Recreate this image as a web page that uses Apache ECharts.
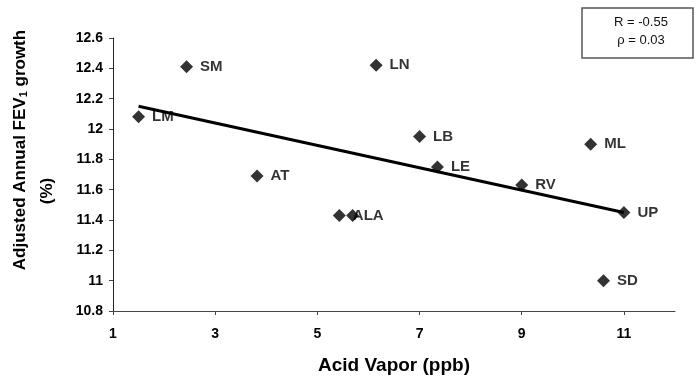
<!DOCTYPE html>
<html>
<head>
<meta charset="utf-8">
<script src="https://cdn.jsdelivr.net/npm/echarts@6/dist/echarts.min.js"></script>
<style>
html,body{margin:0;padding:0;background:#fff;}
#chart{width:699px;height:377px;}
</style>
</head>
<body>
<div id="chart"></div>
<script>
// ---- data ----
const siteNames = ['LM', 'SM', 'AT', 'ALA', '', 'LN', 'LB', 'LE', 'RV', 'ML', 'SD', 'UP'];
const acidVapor = [1.5, 2.44, 3.82, 5.43, 5.69, 6.15, 7.0, 7.35, 9.0, 10.35, 10.6, 11.0];
const fevGrowth = [12.08, 12.41, 11.69, 11.43, 11.43, 12.42, 11.95, 11.75, 11.63, 11.90, 11.0, 11.45];
const trendX = [1.5, 11.0];
const trendY = [12.15, 11.45];
const xTicks = [1, 3, 5, 7, 9, 11];
const statsLines = ['R = -0.55', 'ρ = 0.03'];
const xTitle = 'Acid Vapor (ppb)';
const yTitleMain = 'Adjusted Annual FEV';
const yTitleSub = '1';
const yTitleEnd = ' growth';
const yTitleUnit = '(%)';

const FONT = "'Liberation Sans', Arial, sans-serif";
const chart = echarts.init(document.getElementById('chart'), null, {renderer: 'canvas'});

const scatterData = acidVapor.map((x, i) => ({value: [x, fevGrowth[i]], name: siteNames[i]}));
const trendData = trendX.map((x, i) => [x, trendY[i]]);

chart.setOption({
  animation: false,
  backgroundColor: '#fff',
  grid: {left: 113, right: 24, top: 38, bottom: 66, outerBoundsMode: 'none', containLabel: false},
  xAxis: {
    type: 'value', min: 1, max: 12,
    name: xTitle, nameLocation: 'middle', nameGap: 45,
    nameTextStyle: {fontFamily: FONT, fontWeight: 'bold', fontSize: 19, color: '#000'},
    splitLine: {show: false},
    axisLine: {lineStyle: {color: '#444', width: 1}},
    axisTick: {show: true, customValues: xTicks, length: 4, lineStyle: {color: '#444'}},
    axisLabel: {customValues: xTicks, margin: 16, fontFamily: FONT, fontWeight: 'bold', fontSize: 14, color: '#000'}
  },
  yAxis: {
    type: 'value', min: 10.8, max: 12.6, interval: 0.2,
    splitLine: {show: false},
    axisLine: {show: true, lineStyle: {color: '#222', width: 1}},
    axisTick: {show: true, length: 4, lineStyle: {color: '#444'}},
    axisLabel: {margin: 10, fontFamily: FONT, fontWeight: 'bold', fontSize: 14, color: '#000'}
  },
  series: [
    {
      type: 'scatter', z: 2,
      symbol: 'diamond', symbolSize: 13,
      itemStyle: {color: '#000'},
      data: scatterData,
      label: {
        show: true, position: 'right', distance: 7,
        formatter: p => p.name,
        fontFamily: FONT, fontWeight: 'bold', fontSize: 15, color: '#000'
      }
    },
    {
      type: 'line', z: 5,
      showSymbol: false, symbol: 'none',
      lineStyle: {color: '#000', width: 3},
      data: trendData
    }
  ],
  graphic: [
    {
      type: 'text', x: 20, y: 150, rotation: Math.PI / 2,
      style: {
        text: '{m|' + yTitleMain + '}{s|' + yTitleSub + '}{m|' + yTitleEnd + '}',
        align: 'center', verticalAlign: 'middle',
        rich: {
          m: {fontFamily: FONT, fontWeight: 'bold', fontSize: 17, fill: '#000'},
          s: {fontFamily: FONT, fontWeight: 'bold', fontSize: 11, fill: '#000', verticalAlign: 'bottom', padding: [8, 0, 0, 0]}
        }
      }
    },
    {
      type: 'text', x: 47, y: 191, rotation: Math.PI / 2,
      style: {text: yTitleUnit, align: 'center', verticalAlign: 'middle', font: 'bold 17px ' + FONT, fill: '#000'}
    },
    {
      type: 'rect', shape: {x: 582, y: 8, width: 111, height: 50},
      style: {fill: '#fff', stroke: '#555', lineWidth: 1.5}
    },
    {
      type: 'text', x: 641, y: 22,
      style: {text: statsLines[0], align: 'center', verticalAlign: 'middle', font: '13px ' + FONT, fill: '#111'}
    },
    {
      type: 'text', x: 641, y: 40,
      style: {text: statsLines[1], align: 'center', verticalAlign: 'middle', font: '13px ' + FONT, fill: '#111'}
    }
  ]
});
</script>
</body>
</html>
